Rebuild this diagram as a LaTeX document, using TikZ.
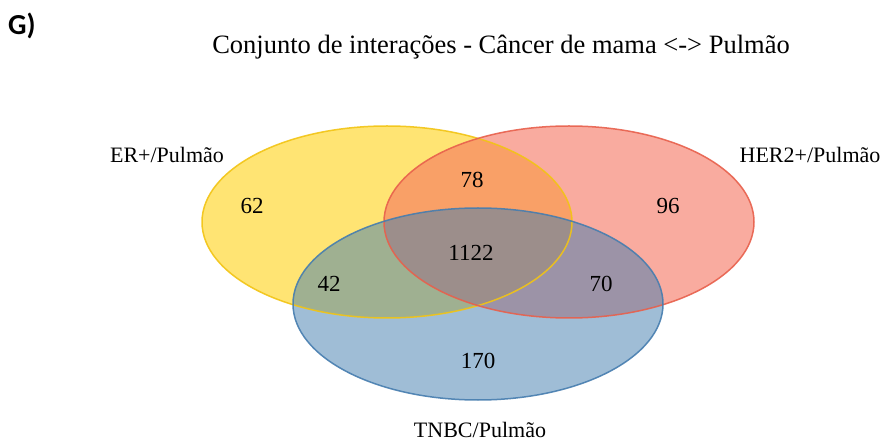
\documentclass[tikz,border=0pt]{standalone}
\usepackage{fontspec}
\setmainfont{Liberation Serif}
\newfontfamily\gfont{Carlito}
\definecolor{ycol}{RGB}{255,210,22}
\definecolor{yedge}{RGB}{242,196,20}
\definecolor{rcol}{RGB}{245,115,95}
\definecolor{redge}{RGB}{232,96,76}
\definecolor{bcol}{RGB}{65,125,175}
\definecolor{bedge}{RGB}{70,125,175}
\begin{document}
\begin{tikzpicture}[x=1pt,y=-1pt,
  edge/.style={line width=1.5pt, draw opacity=0.9},
  num/.style={font=\fontsize{23}{26}\selectfont, inner sep=0pt},
  lab/.style={font=\fontsize{22}{25}\selectfont, inner sep=0pt}]
\useasboundingbox (0,0) rectangle (886,443);
\fill[white] (0,0) rectangle (886,443);
\node[font=\gfont\bfseries\fontsize{29}{32}\selectfont, anchor=west, inner sep=0pt] (g) at (8,26) {G)};
\node[font=\fontsize{26.5}{30}\selectfont, inner sep=0pt] (title) at (501,47) {Conjunto de interações - Câncer de mama <-> Pulmão};
\fill[ycol, fill opacity=0.6] (387,222) ellipse [x radius=185, y radius=96];
\fill[rcol, fill opacity=0.6] (569,222) ellipse [x radius=185, y radius=96];
\fill[bcol, fill opacity=0.5] (478,304) ellipse [x radius=185, y radius=96];
\draw[edge, yedge] (387,222) ellipse [x radius=185, y radius=96];
\draw[edge, redge] (569,222) ellipse [x radius=185, y radius=96];
\draw[edge, bedge] (478,304) ellipse [x radius=185, y radius=96];
\node[lab] (er) at (167,155) {ER+/Pulmão};
\node[lab] (her) at (810,155) {HER2+/Pulmão};
\node[lab] (tnbc) at (480,430) {TNBC/Pulmão};
\node[num] (n62) at (252,206) {62};
\node[num] (n78) at (472,180) {78};
\node[num] (n96) at (668,206) {96};
\node[num] (n1122) at (471,253) {1122};
\node[num] (n42) at (329,284) {42};
\node[num] (n70) at (601,284) {70};
\node[num] (n170) at (478,361) {170};
\end{tikzpicture}
\end{document}
